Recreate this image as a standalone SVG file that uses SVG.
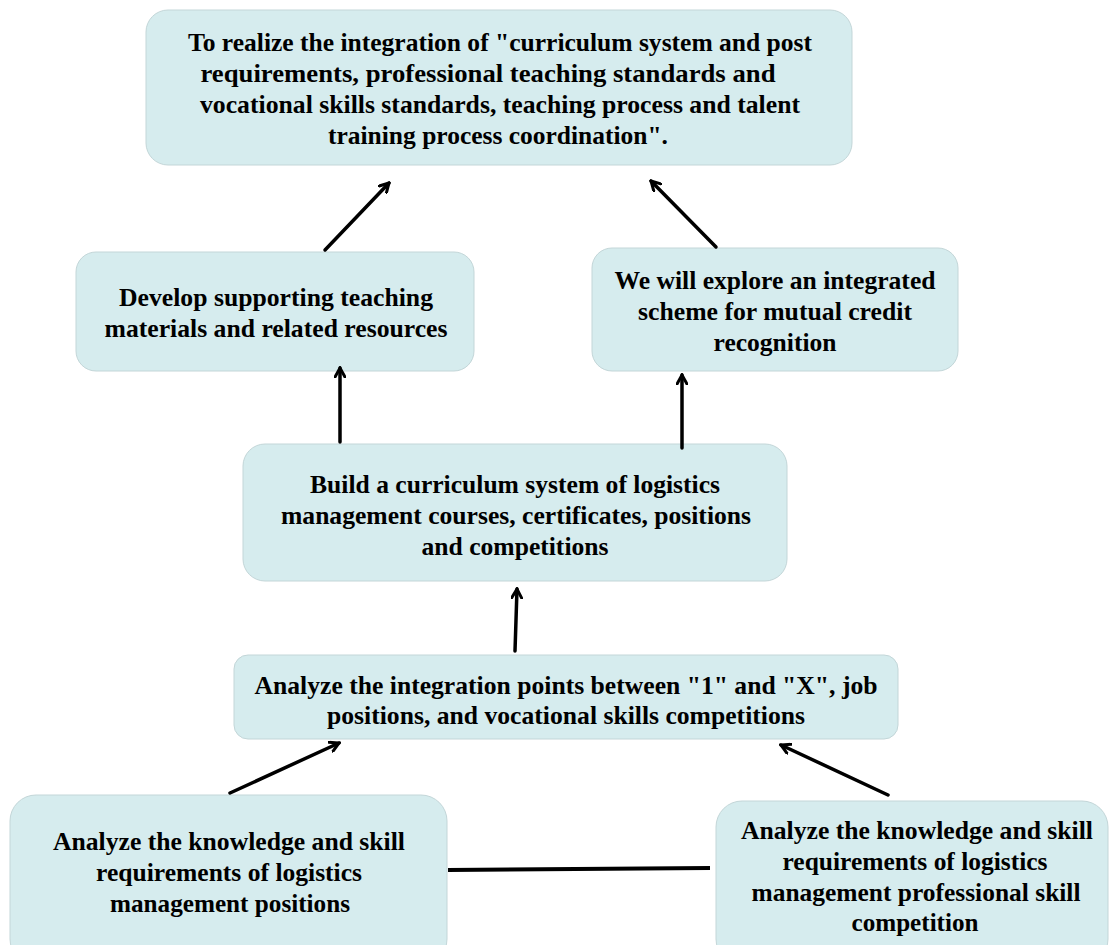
<svg xmlns="http://www.w3.org/2000/svg" width="1110" height="945" viewBox="0 0 1110 945">
<style>
.box{fill:#d6ecee;stroke:#c3d6d8;stroke-width:1}
.t{font-family:"Liberation Serif","Times New Roman",serif;font-weight:bold;font-size:25px;fill:#000;text-anchor:middle}
.c{stroke:#000;stroke-width:3.5;fill:none;stroke-linecap:round}
</style>
<defs>
<marker id="ah" viewBox="0 0 12 12" refX="10" refY="6" markerWidth="12" markerHeight="12" markerUnits="userSpaceOnUse" orient="auto">
<polyline points="1,1 10,6 1,11" fill="none" stroke="#000" stroke-width="3" stroke-linecap="round" stroke-linejoin="miter"/>
</marker>
</defs>
<rect width="1110" height="945" fill="#fff"/>
<g id="n1"><rect class="box" x="146" y="10" width="706" height="155" rx="22"/>
<text class="t" x="500" y="51" textLength="624" lengthAdjust="spacingAndGlyphs">To realize the integration of "curriculum system and post</text>
<text class="t" x="488" y="82" textLength="575" lengthAdjust="spacingAndGlyphs">requirements, professional teaching standards and</text>
<text class="t" x="500" y="113" textLength="600" lengthAdjust="spacingAndGlyphs">vocational skills standards, teaching process and talent</text>
<text class="t" x="498" y="144" textLength="340" lengthAdjust="spacingAndGlyphs">training process coordination".</text></g>
<g id="n2"><rect class="box" x="76" y="252" width="398" height="119" rx="20"/>
<text class="t" x="276" y="306" textLength="314" lengthAdjust="spacingAndGlyphs">Develop supporting teaching</text>
<text class="t" x="276" y="337" textLength="343" lengthAdjust="spacingAndGlyphs">materials and related resources</text></g>
<g id="n3"><rect class="box" x="592" y="248" width="366" height="123" rx="20"/>
<text class="t" x="775" y="289" textLength="321" lengthAdjust="spacingAndGlyphs">We will explore an integrated</text>
<text class="t" x="775" y="320" textLength="274" lengthAdjust="spacingAndGlyphs">scheme for mutual credit</text>
<text class="t" x="775" y="351" textLength="123" lengthAdjust="spacingAndGlyphs">recognition</text></g>
<g id="n4"><rect class="box" x="243" y="444" width="544" height="137" rx="22"/>
<text class="t" x="515" y="493" textLength="410" lengthAdjust="spacingAndGlyphs">Build a curriculum system of logistics</text>
<text class="t" x="516" y="524" textLength="470" lengthAdjust="spacingAndGlyphs">management courses, certificates, positions</text>
<text class="t" x="515" y="555" textLength="187" lengthAdjust="spacingAndGlyphs">and competitions</text></g>
<g id="n5"><rect class="box" x="234" y="655" width="664" height="84" rx="14"/>
<text class="t" x="566" y="694" textLength="623" lengthAdjust="spacingAndGlyphs">Analyze the integration points between "1" and "X", job</text>
<text class="t" x="566" y="724" textLength="478" lengthAdjust="spacingAndGlyphs">positions, and vocational skills competitions</text></g>
<g id="n6"><rect class="box" x="10" y="795" width="437" height="170" rx="26"/>
<text class="t" x="229" y="850" textLength="352" lengthAdjust="spacingAndGlyphs">Analyze the knowledge and skill</text>
<text class="t" x="229" y="881" textLength="266" lengthAdjust="spacingAndGlyphs">requirements of logistics</text>
<text class="t" x="230" y="912" textLength="240" lengthAdjust="spacingAndGlyphs">management positions</text></g>
<g id="n7"><rect class="box" x="716" y="801" width="392" height="164" rx="26"/>
<text class="t" x="917" y="839" textLength="352" lengthAdjust="spacingAndGlyphs">Analyze the knowledge and skill</text>
<text class="t" x="915" y="870" textLength="265" lengthAdjust="spacingAndGlyphs">requirements of logistics</text>
<text class="t" x="916" y="901" textLength="329" lengthAdjust="spacingAndGlyphs">management professional skill</text>
<text class="t" x="915" y="931" textLength="127" lengthAdjust="spacingAndGlyphs">competition</text></g>
<g id="connectors">
<line class="c" x1="325" y1="250" x2="389" y2="183" marker-end="url(#ah)"/>
<line class="c" x1="716" y1="247" x2="651" y2="181" marker-end="url(#ah)"/>
<line class="c" x1="340" y1="442" x2="340" y2="368" marker-end="url(#ah)"/>
<line class="c" x1="682" y1="448" x2="682" y2="375" marker-end="url(#ah)"/>
<line class="c" x1="515" y1="651" x2="517" y2="589" marker-end="url(#ah)"/>
<line class="c" x1="230" y1="793" x2="339" y2="743" marker-end="url(#ah)"/>
<line class="c" x1="888" y1="795" x2="781" y2="745" marker-end="url(#ah)"/>
<line x1="448" y1="870" x2="710" y2="868" stroke="#000" stroke-width="4"/>
</g>
</svg>
